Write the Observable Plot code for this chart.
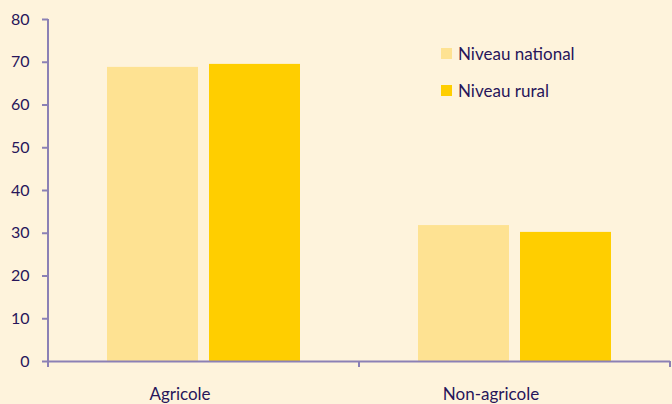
<!DOCTYPE html>
<html>
<head>
<meta charset="utf-8">
<script src="https://cdn.jsdelivr.net/npm/d3@7"></script>
<script src="https://cdn.jsdelivr.net/npm/@observablehq/plot@0.6"></script>
<style>
  html, body { margin: 0; padding: 0; background: #fef3dc; }
  #wrap { position: relative; width: 672px; height: 404px; background: #fef3dc; font-family: Lato, "Open Sans", sans-serif; overflow: hidden; }
  #legend { position: absolute; left: 441px; top: 43px; color: #27155a; font-size: 17px; }
  #legend .item { display: flex; align-items: center; height: 20px; margin-bottom: 17px; }
  #legend .sw { width: 11px; height: 11px; margin-right: 6px; }
</style>
</head>
<body>
<div id="wrap"><div id="legend"></div></div>
<script>
const categories = ["Agricole", "Non-agricole"];
const series = ["Niveau national", "Niveau rural"];
const nationalValues = [68.8, 31.8];
const ruralValues = [69.5, 30.2];
const yTicks = [0, 10, 20, 30, 40, 50, 60, 70, 80];
const colors = ["#fee292", "#ffce00"];

const data = [];
categories.forEach((c, i) => {
  data.push({category: c, series: series[0], value: nationalValues[i]});
  data.push({category: c, series: series[1], value: ruralValues[i]});
});

const axisColor = "#8b80b5";
const textColor = "#27155a";

const plot = Plot.plot({
  width: 672,
  height: 404,
  marginTop: 19,
  marginBottom: 43,
  marginLeft: 48,
  marginRight: 2,
  style: {background: "transparent", fontFamily: "Lato, 'Open Sans', sans-serif", color: textColor},
  fx: {domain: categories, paddingInner: 0, paddingOuter: 0, axis: null, label: null},
  x: {domain: series, paddingInner: 0.108, paddingOuter: 0.574, axis: null},
  y: {domain: [0, 80], axis: null},
  color: {domain: series, range: colors},
  marks: [
    Plot.barY(data, {fx: "category", x: "series", y: "value", fill: "series"}),
    Plot.ruleY([0], {stroke: axisColor, strokeWidth: 2}),
    Plot.axisY({ticks: yTicks, tickSize: 6, tickPadding: 13, stroke: axisColor, strokeWidth: 2, fill: textColor, fontSize: 16, label: null}),
    Plot.axisFx({anchor: "bottom", tickSize: 0, tickPadding: 0, dy: 26, dx: -24, fill: textColor, fontSize: 17, label: null})
  ]
});

document.getElementById("wrap").prepend(plot);
plot.style.position = "absolute";
plot.style.left = "0";
plot.style.top = "0";

// axis line and band-boundary ticks from the plot's own scales
const fx = plot.scale("fx");
const y = plot.scale("y");
const g = d3.select(plot).append("g").attr("stroke", axisColor).attr("stroke-width", 2);
const x0 = fx.range[0];
g.append("line").attr("x1", x0).attr("x2", x0).attr("y1", y.apply(80)).attr("y2", y.apply(0) + 6);
categories.forEach(c => {
  const xe = fx.apply(c) + fx.bandwidth;
  g.append("line").attr("x1", xe).attr("x2", xe).attr("y1", y.apply(0)).attr("y2", y.apply(0) + 6);
});

const legend = d3.select("#legend");
series.forEach((s, i) => {
  const it = legend.append("div").attr("class", "item");
  it.append("div").attr("class", "sw").style("background", colors[i]);
  it.append("span").text(s);
});
</script>
</body>
</html>
